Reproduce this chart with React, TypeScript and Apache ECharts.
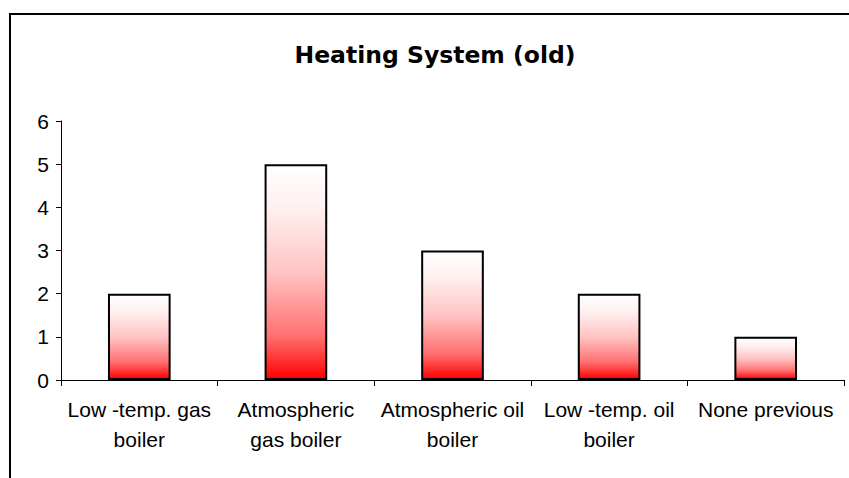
import React, { useEffect, useRef } from "react";
import * as echarts from "echarts";

const categories = [
  "Low -temp. gas\nboiler",
  "Atmospheric\ngas boiler",
  "Atmospheric oil\nboiler",
  "Low -temp. oil\nboiler",
  "None previous",
];
const values = [2, 5, 3, 2, 1];
const titleText = "Heating System (old)";

export default function App() {
  const ref = useRef<HTMLDivElement>(null);
  useEffect(() => {
    if (!ref.current) return;
    const chart = echarts.init(ref.current, undefined, { renderer: "svg" });
    chart.setOption({
      animation: false,
      backgroundColor: "#ffffff",
      title: {
        text: titleText,
        left: 430,
        textAlign: "center",
        top: 38,
        textStyle: {
          fontFamily: "DejaVu Sans, sans-serif",
          fontSize: 23.5,
          fontWeight: "bold",
          color: "#000",
        },
      },
      graphic: [
        {
          type: "rect",
          shape: { x: 10, y: 14, width: 1000, height: 1000 },
          style: { fill: "none", stroke: "#000", lineWidth: 2 },
          silent: true,
        },
      ],
      grid: { left: 61, right: 5, top: 121, bottom: 98, containLabel: false },
      xAxis: {
        type: "category",
        data: categories,
        axisLine: { lineStyle: { color: "#000", width: 1 } },
        axisTick: { show: true, length: 6, lineStyle: { color: "#000" }, alignWithLabel: false },
        axisLabel: {
          interval: 0,
          margin: 14,
          fontFamily: "Liberation Sans, Arial, sans-serif",
          fontSize: 21,
          lineHeight: 30,
          color: "#000",
        },
      },
      yAxis: {
        type: "value",
        min: 0,
        max: 6,
        interval: 1,
        splitLine: { show: false },
        axisLine: { show: true, lineStyle: { color: "#000", width: 1 } },
        axisTick: { show: true, length: 5, lineStyle: { color: "#000" } },
        axisLabel: {
          margin: 12,
          fontFamily: "Liberation Sans, Arial, sans-serif",
          fontSize: 21,
          color: "#000",
        },
      },
      series: [
        {
          type: "bar",
          data: values,
          barCategoryGap: "60%",
          itemStyle: {
            color: new echarts.graphic.LinearGradient(0, 0, 0, 1, [
              { offset: 0, color: "#ffffff" },
              { offset: 0.2, color: "#fff0f0" },
              { offset: 0.5, color: "#ffc4c4" },
              { offset: 0.8, color: "#ff7070" },
              { offset: 1, color: "#ff0000" },
            ]),
            borderColor: "#000",
            borderWidth: 2,
          },
        },
      ],
    });
    return () => chart.dispose();
  }, []);
  return (
    <div
      ref={ref}
      style={{ position: "fixed", left: 0, top: 0, width: 849, height: 478 }}
    />
  );
}
